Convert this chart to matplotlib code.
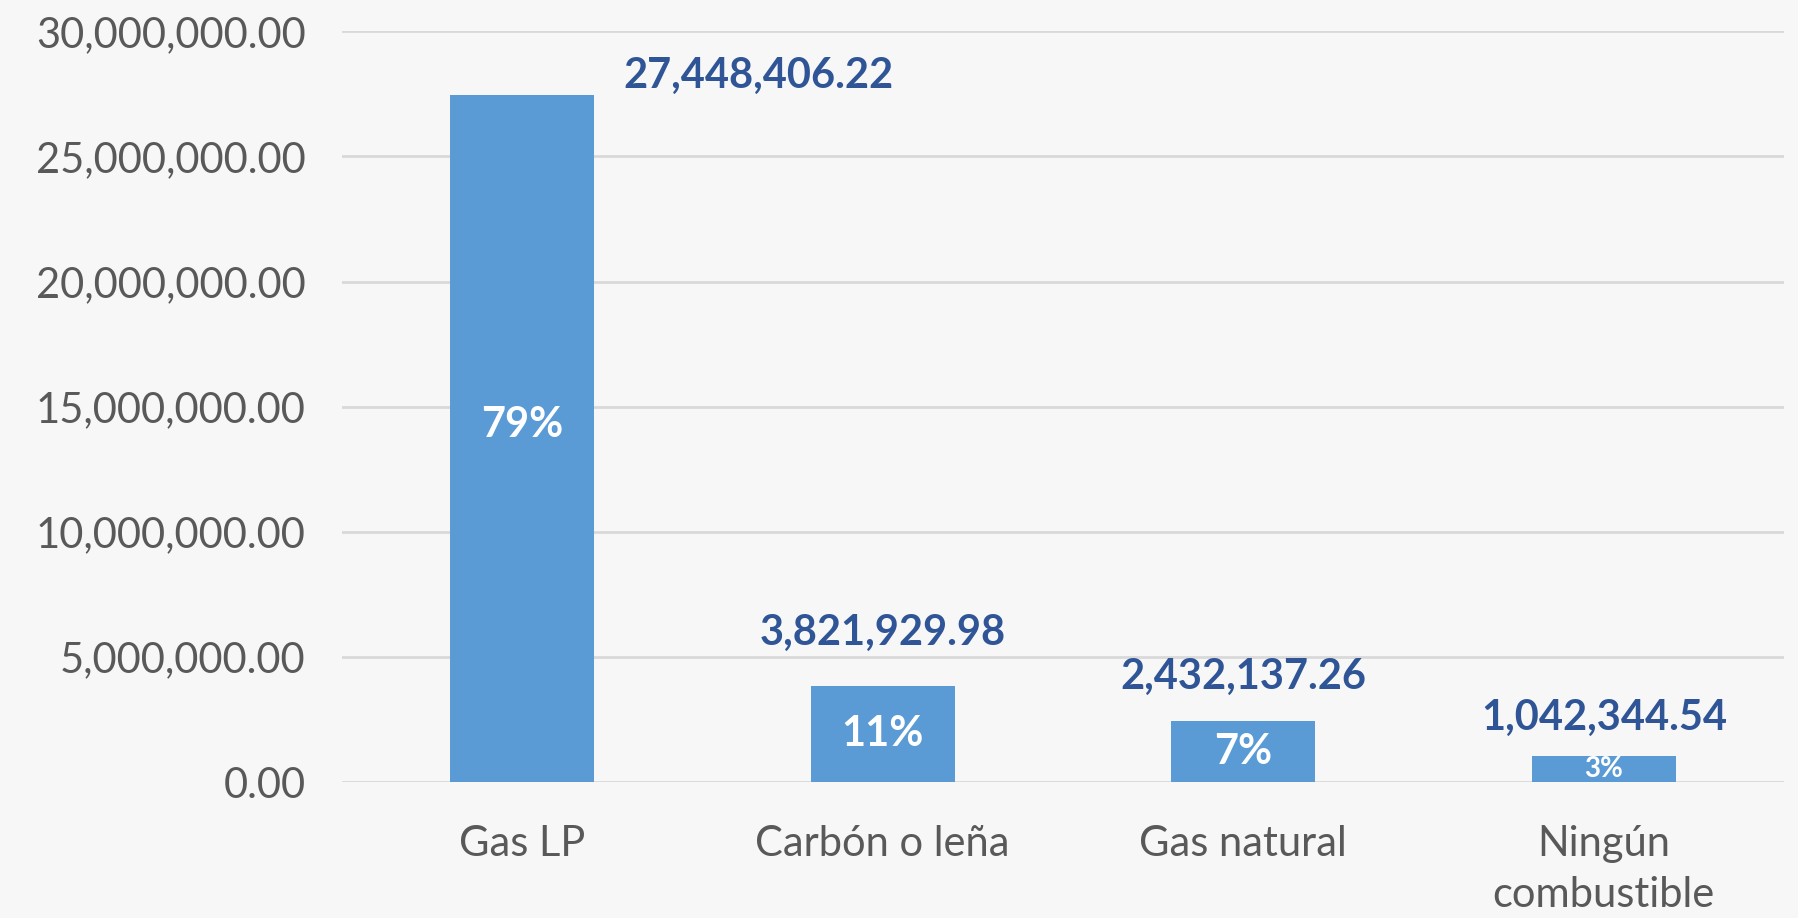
import matplotlib
matplotlib.use("Agg")
import matplotlib.pyplot as plt
from matplotlib.ticker import FuncFormatter, MultipleLocator

# Data
categories = ["Gas LP", "Carbón o leña", "Gas natural", "Ningún\ncombustible"]
values = [27448406.22, 3821929.98, 2432137.26, 1042344.54]
percent_labels = ["79%", "11%", "7%", "3%"]

# label placement tweaks (offset points), matching the Excel layout
value_offsets = [(170, 0), (0, 25), (0, 18), (0, 14)]
percent_offsets = [10, 0, 0, 0]
percent_sizes = [30, 30, 30, 20]

BG = "#F7F7F7"
BAR = "#5B9BD5"
VALUE_COLOR = "#2F5597"
TEXT_GRAY = "#595959"
GRID = "#D9D9D9"

plt.rcParams["font.family"] = ["Lato", "DejaVu Sans"]

fig = plt.figure(figsize=(17.99, 9.18), dpi=100, facecolor=BG)
ax = fig.add_axes([0.190, 0.148, 0.8017, 0.818])
ax.set_facecolor(BG)

x = list(range(len(categories)))
ax.bar(x, values, width=0.4, color=BAR, zorder=3)

ax.set_xlim(-0.5, len(categories) - 0.5)
ax.set_ylim(0, 30000000)
ax.yaxis.set_major_locator(MultipleLocator(5000000))
ax.yaxis.set_major_formatter(FuncFormatter(lambda v, p: f"{v:,.2f}"))
ax.grid(axis="y", color=GRID, linewidth=2, zorder=0)
ax.set_axisbelow(True)

for s in ax.spines.values():
    s.set_visible(False)

ax.tick_params(axis="y", length=0, labelsize=30, labelcolor=TEXT_GRAY, pad=26)
ax.tick_params(axis="x", length=0, labelsize=30, labelcolor=TEXT_GRAY, pad=31)
ax.set_xticks(x)
ax.set_xticklabels(categories, linespacing=1.42, va="top")

for i, (v, off) in enumerate(zip(values, value_offsets)):
    ax.annotate(f"{v:,.2f}", xy=(i, v), xytext=off, textcoords="offset points",
                ha="center", va="bottom", fontsize=30, fontweight="bold",
                color=VALUE_COLOR, zorder=4)
    ax.annotate(percent_labels[i], xy=(i, v / 2), xytext=(0, percent_offsets[i]),
                textcoords="offset points", ha="center", va="center",
                fontsize=percent_sizes[i], fontweight="bold", color="white", zorder=4)

fig.savefig("out.png", dpi=100, facecolor=BG)
